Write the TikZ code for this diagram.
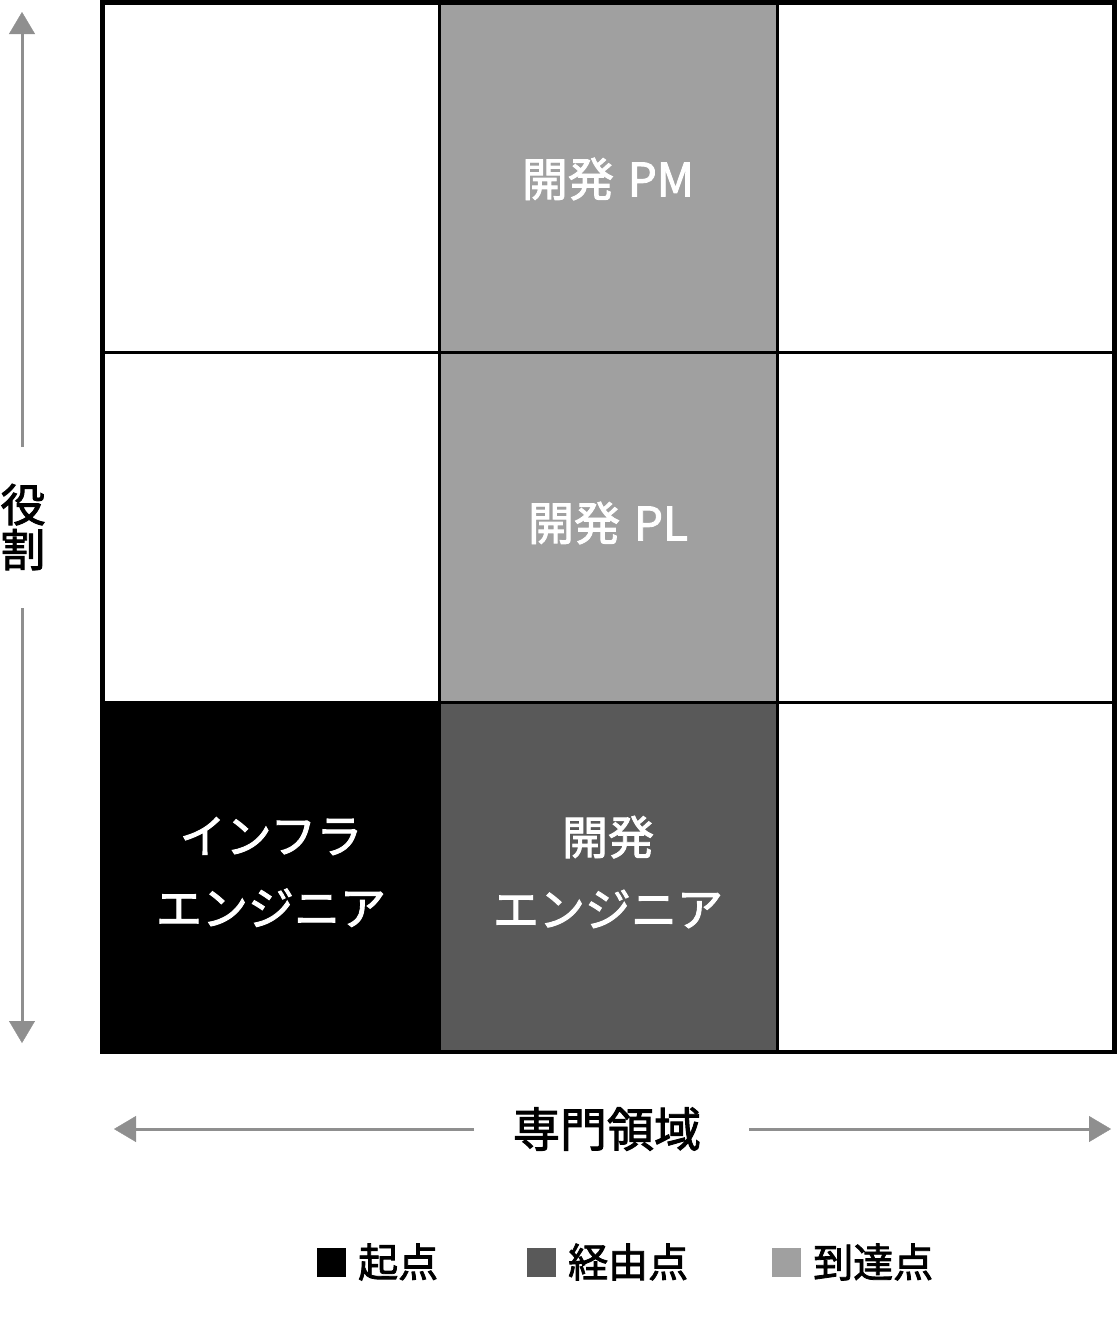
\documentclass[tikz,border=0pt]{standalone}
\usepackage{fontspec}
\setmainfont{Noto Sans CJK JP}
\newfontfamily\medfont[FakeBold=2]{Noto Sans CJK JP}
\usetikzlibrary{arrows.meta}
\definecolor{darkcell}{HTML}{595959}
\definecolor{lightcell}{HTML}{A0A0A0}
\definecolor{axisgray}{HTML}{8F8F8F}
\tikzset{
  celltext/.style={text=white, font=\medfont\fontsize{46}{72}\selectfont, align=center, inner sep=0pt},
  axislabel/.style={text=black, font=\medfont\fontsize{47}{47}\selectfont, inner sep=0pt},
  axisline/.style={draw=axisgray, line width=3pt},
  axishead/.style={-{Triangle[length=22pt,width=26pt]}, axisgray},
  legbox/.style={minimum width=29pt, minimum height=29pt, inner sep=0pt, draw=none},
  legtext/.style={font=\medfont\fontsize{40}{40}\selectfont, anchor=west, inner sep=0pt},
  gridline/.style={line width=3pt, black},
}
\begin{document}
\begin{tikzpicture}[x=1pt,y=-1pt]
\useasboundingbox (0,0) rectangle (1117,1320);
% cell fills
\fill[lightcell] (439,2.5) rectangle (777,702);
\fill[black] (102.5,702) rectangle (439,1052);
\fill[darkcell] (439,702) rectangle (777,1052);
% grid lines
\draw[gridline] (439,2.5) -- (439,1052);
\draw[gridline] (777,2.5) -- (777,1052);
\draw[gridline] (102.5,352) -- (1114.7,352);
\draw[gridline] (102.5,702) -- (1114.7,702);
\draw[line width=4.5pt, black] (102.5,2.5) rectangle (1114.7,1052);
% cell texts
\node[celltext] (pm) at (608,179) {開発\hspace{0.3em}PM};
\node[celltext] (pl) at (608,523) {開発\hspace{0.3em}PL};
\node[celltext] (infra) at (271,872) {インフラ\\エンジニア};
\node[celltext] (dev) at (608,872) {開発\\エンジニア};
% vertical axis
\node[axislabel, align=center, font=\medfont\fontsize{45}{45}\selectfont] (role) at (23,527) {役\\割};
\coordinate (vtop) at (22,12);
\coordinate (vbot) at (22,1043);
\coordinate (vgap1) at (22,447);
\coordinate (vgap2) at (22,608);
\draw[axisline] (vgap1) -- (22,30);
\draw[axishead] (22,31) -- (vtop);
\draw[axisline] (vgap2) -- (22,1024);
\draw[axishead] (22,1022) -- (vbot);
% horizontal axis
\node[axislabel] (domain) at (607,1129) {専門領域};
\coordinate (hleft) at (114,1129);
\coordinate (hright) at (1111,1129);
\coordinate (hgap1) at (474,1129);
\coordinate (hgap2) at (749,1129);
\draw[axisline] (hgap1) -- (134,1129);
\draw[axishead] (136,1129) -- (hleft);
\draw[axisline] (hgap2) -- (1091,1129);
\draw[axishead] (1089,1129) -- (hright);
% legend
\node[legbox, fill=black] (lb1) at (331,1262) {};
\node[legtext] (lt1) at (358,1262) {起点};
\node[legbox, fill=darkcell] (lb2) at (541,1262) {};
\node[legtext] (lt2) at (568,1262) {経由点};
\node[legbox, fill=lightcell] (lb3) at (786,1262) {};
\node[legtext] (lt3) at (813,1262) {到達点};
\end{tikzpicture}
\end{document}
